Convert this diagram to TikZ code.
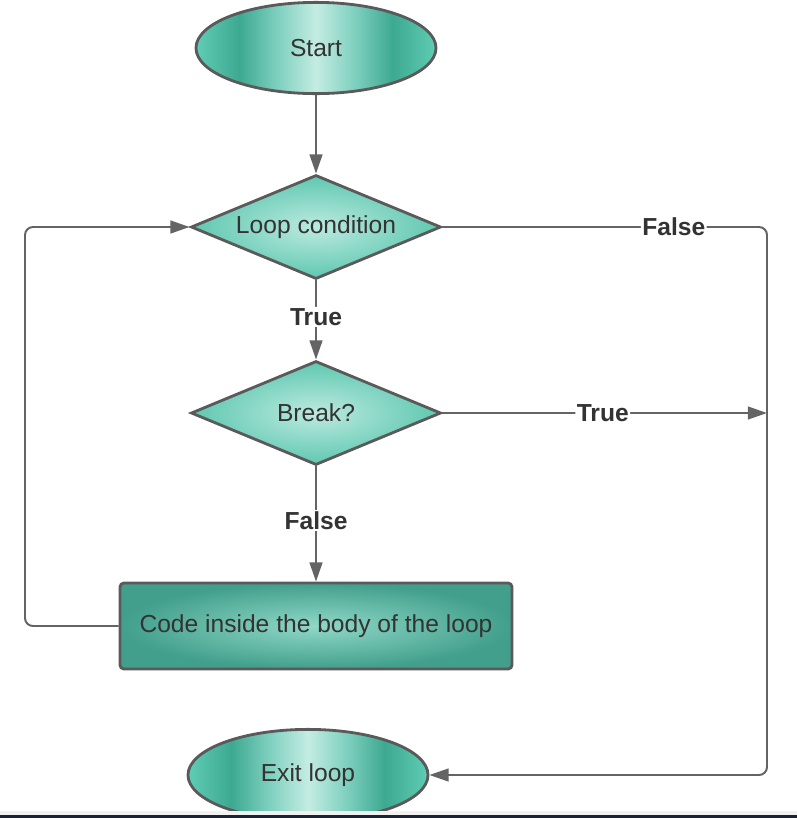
\documentclass[tikz,border=0pt]{standalone}
\usepackage{fontspec}
\setmainfont{Liberation Sans}
\usetikzlibrary{shapes.geometric,arrows.meta}
\definecolor{ellA}{HTML}{5FCCB4}
\definecolor{ellB}{HTML}{3DA990}
\definecolor{ellM}{HTML}{7FD0BF}
\definecolor{ellC}{HTML}{C4ECE3}
\definecolor{dmIn}{HTML}{BCEAE0}
\definecolor{dmOut}{HTML}{5FC8B0}
\definecolor{rcIn}{HTML}{90D8C8}
\definecolor{rcOut}{HTML}{419F8B}
\definecolor{outl}{HTML}{5A5A5A}
\definecolor{conn}{HTML}{646464}
\definecolor{txt}{HTML}{333333}
\definecolor{barlight}{HTML}{F1F1F1}
\definecolor{bardark}{HTML}{1C2230}
\pgfdeclarehorizontalshading{ellshade}{100bp}{color(0bp)=(ellA); color(25bp)=(ellA); color(34bp)=(ellB); color(42bp)=(ellM); color(50bp)=(ellC); color(58bp)=(ellM); color(66bp)=(ellB); color(75bp)=(ellA); color(100bp)=(ellA)}
\tikzset{
  lbl/.style={font=\fontsize{17.5}{20}\selectfont, text=txt},
  term/.style={ellipse, draw=outl, line width=2pt, shading=ellshade, minimum width=6.0cm, minimum height=2.28cm, inner sep=0pt, lbl},
  decision/.style={diamond, draw=outl, line width=2pt, inner color=dmIn, outer color=dmOut, minimum width=6.25cm, minimum height=2.6cm, shape aspect=2.4, inner sep=0pt, lbl},
  process/.style={rectangle, rounded corners=0.1cm, draw=outl, line width=2pt, inner color=rcIn, outer color=rcOut, minimum width=9.8cm, minimum height=2.15cm, lbl},
  conn/.style={draw=conn, line width=1.4pt, rounded corners=0.2cm, -{Triangle[length=0.48cm,width=0.32cm]}},
  elabel/.style={fill=white, inner sep=1pt, font=\bfseries\fontsize{17.5}{20}\selectfont, text=txt}
}
\begin{document}
\begin{tikzpicture}[x=0.025cm, y=-0.025cm]
\useasboundingbox (0,0) rectangle (797,818);
\node[term] (start) at (316,48) {Start};
\node[decision] (lc) at (316,227) {Loop condition};
\node[decision] (brk) at (316,413) {Break?};
\node[process] (body) at (316,626) {Code inside the body of the loop};
\node[term] (exit) at (308,775) {Exit loop};

\coordinate (r1) at (767,227);
\coordinate (r2) at (767,775);
\coordinate (rt) at (767,413);
\coordinate (l1) at (25,626);
\coordinate (l2) at (25,227);

\draw[conn] (start) -- (lc);
\draw[conn] (lc) -- node[elabel, pos=0.46]{True} (brk);
\draw[conn] (brk) -- node[elabel, pos=0.47]{False} (body);
\draw[conn] (body.west) -- (l1) -- (l2) -- (lc.west);
\draw[conn] (lc.east) -- node[elabel, pos=0.713]{False} (r1) -- (r2) -- (exit.east);
\draw[conn] (brk.east) -- node[elabel, pos=0.494]{True} (rt);

\fill[barlight] (0,811) rectangle (797,815);
\fill[bardark] (0,815) rectangle (797,818);
\end{tikzpicture}
\end{document}
